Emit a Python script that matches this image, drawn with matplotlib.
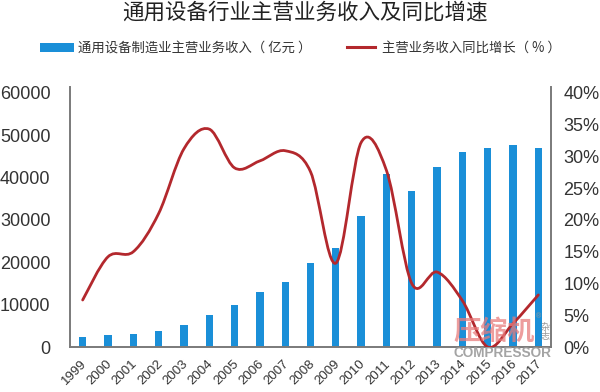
import matplotlib
matplotlib.use("Agg")
import matplotlib.pyplot as plt
from matplotlib.path import Path
from matplotlib.patches import PathPatch, Rectangle
from matplotlib.lines import Line2D
import matplotlib.transforms as mtransforms
import numpy as np

years = ["1999", "2000", "2001", "2002", "2003", "2004", "2005", "2006", "2007", "2008",
         "2009", "2010", "2011", "2012", "2013", "2014", "2015", "2016", "2017"]
revenue = [2400, 2800, 3100, 3850, 5100, 7600, 9900, 13100, 15450, 19900,
           23400, 30900, 40800, 36800, 42500, 46100, 47000, 47800, 47000]
growth = [7.4, 14.2, 15.0, 21.0, 31.2, 34.3, 28.2, 29.3, 30.9, 27.6,
          13.2, 32.2, 27.8, 10.0, 11.8, 7.3, 0.0, 3.7, 8.2]
left_ticks = [0, 10000, 20000, 30000, 40000, 50000, 60000]
right_ticks = [0, 5, 10, 15, 20, 25, 30, 35, 40]

title = "通用设备行业主营业务收入及同比增速"
bar_label = "通用设备制造业主营业务收入（ 亿元 ）"
line_label = "主营业务收入同比增长（ % ）"

BAR_C = "#1a8fd8"
LINE_C = "#b3282d"
SPINE_C = "#7a7a7a"
TXT_C = "#333333"
CJK = ["Noto Sans CJK SC", "DejaVu Sans"]
NUM = ["Liberation Sans", "DejaVu Sans"]

W, H = 600, 392
fig = plt.figure(figsize=(6, 3.92), dpi=100)
fig.patch.set_facecolor("white")

def fx(px):
    return px / W

def fy(py):
    return 1 - py / H

ax = fig.add_axes([fx(70), fy(347), fx(551) - fx(70), fy(87) - fy(347)])
ax2 = ax.twinx()

x = np.arange(len(years))
ax.bar(x, revenue, width=0.29, color=BAR_C, zorder=2)
ax.set_xlim(-0.5, len(years) - 0.5)
ax.set_ylim(0, 61400)
ax2.set_ylim(0, 61400 / 60000 * 40)

# smooth line (Excel-like Bezier smoothing through the data points)
pts = np.column_stack([x, growth]).astype(float)
verts = [tuple(pts[0])]
codes = [Path.MOVETO]
n = len(pts)
for i in range(n - 1):
    p0 = pts[i - 1] if i > 0 else pts[i]
    p1 = pts[i]
    p2 = pts[i + 1]
    p3 = pts[i + 2] if i + 2 < n else pts[i + 1]
    c1 = p1 + (p2 - p0) / 6.0
    c2 = p2 - (p3 - p1) / 6.0
    verts += [tuple(c1), tuple(c2), tuple(p2)]
    codes += [Path.CURVE4] * 3
path = Path(verts, codes)
ax2.add_patch(PathPatch(path, facecolor="none", edgecolor=LINE_C, lw=2.0,
                        transform=ax2.transData, zorder=3, capstyle="round"))

for a in (ax, ax2):
    a.spines["top"].set_visible(False)
    a.tick_params(length=0)
ax.spines["right"].set_visible(False)
ax2.spines["left"].set_visible(False)
ax2.spines["bottom"].set_visible(False)
for s, a in (("left", ax), ("bottom", ax), ("right", ax2)):
    a.spines[s].set_color(SPINE_C)
    a.spines[s].set_linewidth(1.4)

ax.set_yticks(left_ticks)
ax.set_yticklabels([str(v) for v in left_ticks], family=NUM, fontsize=13, color=TXT_C)
ax.tick_params(axis="y", pad=14)
ax2.set_yticks(right_ticks)
ax2.set_yticklabels([f"{v}%" for v in right_ticks], family=NUM, fontsize=13, color=TXT_C)
ax2.tick_params(axis="y", pad=9)

ax.set_xticks(x)
ax.set_xticklabels(years, rotation=45, ha="right", rotation_mode="anchor",
                   family=NUM, fontsize=9.5, color=TXT_C)
ax.tick_params(axis="x", pad=8)
offset = mtransforms.ScaledTranslation(-2 / 100, 0, fig.dpi_scale_trans)
for lab in ax.get_xticklabels():
    lab.set_transform(lab.get_transform() + offset)

ax.set_zorder(1)
ax2.set_zorder(2)
ax.patch.set_visible(False)

# title
fig.text(fx(305), fy(13), title, ha="center", va="center", fontsize=15.5,
         family=CJK, color="#222222", fontweight="medium")

# legend
fig.patches.append(Rectangle((fx(40), fy(52)), fx(34), fy(43) - fy(52),
                             transform=fig.transFigure, facecolor=BAR_C, edgecolor="none"))
fig.text(fx(78), fy(47.5), bar_label, ha="left", va="center", fontsize=9.6,
         family=CJK, color=TXT_C)
fig.lines.append(Line2D([fx(347), fx(375)], [fy(46.7), fy(46.7)],
                        transform=fig.transFigure, color=LINE_C, lw=2.2))
fig.text(fx(381.5), fy(47.5), line_label, ha="left", va="center", fontsize=9.6,
         family=CJK, color=TXT_C)

# watermark
fig.text(fx(494), fy(332), "压缩机", ha="center", va="center", fontsize=19.5,
         family=CJK, color="#e87c7c", alpha=0.75, fontweight="bold", zorder=10)
fig.text(fx(502), fy(353), "COMPRESSOR", ha="center", va="center", fontsize=9.8,
         family=NUM, color="#9a9a9a", alpha=0.9, fontweight="bold", zorder=10)
fig.text(fx(545), fy(332), "杂\n志", ha="center", va="center", fontsize=6.5,
         family=CJK, color="#8a8a8a", alpha=0.9, linespacing=1.1, zorder=10)
fig.text(fx(539), fy(317), "®", ha="center", va="center", fontsize=5,
         family=NUM, color="#9a9a9a", zorder=10)

fig.savefig("out.png", dpi=100, facecolor="white")
